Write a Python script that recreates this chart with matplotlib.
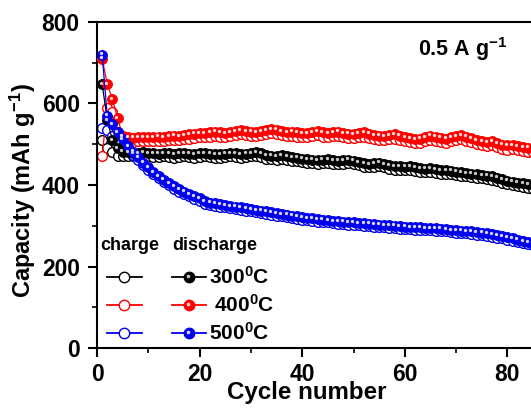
import matplotlib
matplotlib.use("Agg")
import matplotlib.pyplot as plt
from matplotlib.lines import Line2D
from matplotlib.transforms import offset_copy

plt.rcParams['font.family'] = ['Liberation Sans', 'DejaVu Sans']
plt.rcParams['font.weight'] = 'bold'
plt.rcParams['mathtext.fontset'] = 'custom'
plt.rcParams['mathtext.rm'] = 'Liberation Sans:bold'
plt.rcParams['mathtext.it'] = 'Liberation Sans:bold'
plt.rcParams['mathtext.bf'] = 'Liberation Sans:bold'

# ---- data: specific capacity (mAh/g) vs cycle number at 0.5 A/g ----
cycles = list(range(1, 86))

discharge_300 = [648, 560, 510, 490, 482, 480, 479, 478, 480, 479,
                 478, 477, 479, 478, 476, 478, 479, 477, 476, 478,
                 479, 477, 476, 475, 477, 479, 478, 476, 477, 479,
                 480, 478, 474, 472, 471, 473, 471, 469, 467, 465,
                 463, 462, 461, 462, 463, 461, 460, 461, 462, 460,
                 457, 454, 452, 453, 455, 452, 449, 447, 446, 445,
                 446, 444, 442, 440, 441, 439, 437, 436, 435, 433,
                 431, 430, 428, 426, 425, 423, 421, 418, 414, 411,
                 408, 406, 404, 402, 400]
charge_300 = [510, 492, 480, 472, 470, 471, 470, 469, 471, 470,
              469, 468, 470, 469, 467, 469, 470, 468, 467, 469,
              470, 468, 467, 466, 468, 470, 469, 467, 468, 470,
              471, 469, 465, 463, 462, 464, 462, 460, 458, 456,
              454, 453, 452, 453, 454, 452, 451, 452, 453, 451,
              448, 445, 443, 444, 446, 443, 440, 438, 437, 436,
              437, 435, 433, 431, 432, 430, 428, 427, 426, 424,
              422, 421, 419, 417, 416, 414, 412, 409, 405, 402,
              399, 397, 395, 393, 391]

discharge_400 = [710, 648, 610, 565, 520, 517, 516, 517, 518, 517,
                 518, 519, 518, 520, 521, 520, 522, 524, 526, 528,
                 527, 529, 531, 529, 527, 530, 533, 535, 533, 531,
                 530, 532, 535, 538, 536, 533, 530, 531, 529, 527,
                 528, 530, 532, 529, 527, 530, 531, 528, 526, 525,
                 527, 529, 526, 523, 521, 520, 522, 524, 521, 518,
                 515, 513, 514, 518, 521, 519, 516, 514, 517, 520,
                 522, 519, 515, 510, 507, 505, 508, 503, 499, 497,
                 498, 495, 493, 492, 490]
charge_400 = [472, 590, 578, 530, 512, 507, 506, 507, 508, 507,
              508, 509, 508, 510, 511, 510, 512, 514, 516, 518,
              517, 519, 521, 519, 517, 520, 523, 525, 523, 521,
              520, 522, 525, 528, 526, 523, 520, 521, 519, 517,
              518, 520, 522, 519, 517, 520, 521, 518, 516, 515,
              517, 519, 516, 513, 511, 510, 512, 514, 511, 508,
              505, 503, 504, 508, 511, 509, 506, 504, 507, 510,
              512, 509, 505, 500, 497, 495, 498, 493, 489, 487,
              488, 485, 483, 482, 480]

discharge_500 = [720, 570, 550, 530, 512, 496, 482, 468, 455, 443,
                 432, 422, 413, 405, 397, 390, 384, 378, 372, 367,
                 360, 357, 355, 353, 351, 349, 347, 345, 343, 341,
                 339, 337, 335, 333, 331, 329, 327, 325, 323, 321,
                 319, 318, 316, 315, 314, 312, 311, 310, 309, 308,
                 307, 306, 305, 304, 303, 302, 301, 300, 299, 298,
                 297, 296, 296, 295, 295, 294, 293, 292, 290, 289,
                 288, 287, 286, 284, 283, 281, 279, 277, 275, 272,
                 269, 266, 263, 260, 258]
charge_500 = [541, 534, 521, 502, 492, 484, 474, 461, 449, 437,
              426, 416, 407, 399, 391, 384, 378, 372, 366, 361,
              354, 351, 349, 347, 345, 343, 341, 339, 337, 335,
              333, 331, 329, 327, 325, 323, 321, 319, 317, 315,
              313, 312, 310, 309, 308, 306, 305, 304, 303, 302,
              301, 300, 299, 298, 297, 296, 295, 294, 293, 292,
              291, 290, 290, 289, 289, 288, 287, 286, 284, 283,
              282, 281, 280, 278, 277, 275, 273, 271, 269, 266,
              263, 260, 257, 254, 252]

temps = ['300', '400', '500']
colors = ['black', 'red', '#0000ee']
highlights = ['#c8c8c8', '#ffd6d6', '#d6d6ff']

W, H, DPI = 531, 411, 100
fig = plt.figure(figsize=(W / DPI, H / DPI), dpi=DPI)
ax = fig.add_axes([97 / W, 63 / H, 513 / W, 326 / H])

ms = 7.0
series = [(charge_300, discharge_300), (charge_400, discharge_400),
          (charge_500, discharge_500)]
hl_tr = offset_copy(ax.transData, fig=fig, x=-0.9, y=0.9, units='points')

for (ch, dis), c in zip(series, colors):
    ax.plot(cycles, ch, '-', color=c, lw=0.9, marker='o', ms=ms,
            mfc='white', mec=c, mew=1.0, zorder=2)
for (ch, dis), c, hc in zip(series, colors, highlights):
    ax.plot(cycles, dis, '-', color=c, lw=0.9, marker='o', ms=ms,
            mfc=c, mec=c, mew=0.8, zorder=3)
    ax.plot(cycles, dis, linestyle='none', marker='o', ms=2.4,
            mfc=hc, mec='none', transform=hl_tr, zorder=3.5)

ax.set_xlim(0, 100)
ax.set_ylim(0, 800)
ax.set_xticks([0, 20, 40, 60, 80, 100])
ax.set_xticks([10, 30, 50, 70, 90], minor=True)
ax.set_yticks([0, 200, 400, 600, 800])
ax.set_yticks([100, 300, 500, 700], minor=True)
ax.tick_params(which='major', direction='out', length=6.5, width=1.5,
               labelsize=16.4, pad=6, top=False, right=False)
ax.tick_params(axis='x', which='major', pad=4)
ax.tick_params(which='minor', direction='out', length=3.5, width=1.2,
               top=False, right=False)
for lab in ax.get_xticklabels() + ax.get_yticklabels():
    lab.set_fontweight('bold')
for s in ax.spines.values():
    s.set_linewidth(1.5)

# axis titles placed in figure pixels
fig.text(307, H - 392, 'Cycle number', transform=None, fontsize=17.4,
         fontweight='bold', ha='center', va='center')
fig.text(23, H - 191, 'Capacity (mAh g$^{-1}$)', transform=None,
         fontsize=17, fontweight='bold', ha='center', va='center',
         rotation=90)

fig.text(463, H - 49, '0.5 A g$^{-1}$', transform=None, fontsize=15.5,
         fontweight='bold', ha='center', va='center')

# hand-built two-column legend (charge / discharge)
def px(x, y):
    return ((x - 97) / 513, (348 - y) / 326)

tx, ty = px(100, 245)
ax.text(tx, ty, 'charge', transform=ax.transAxes, fontsize=13,
        fontweight='bold', va='center', ha='left')
tx, ty = px(172, 245)
ax.text(tx, ty, 'discharge', transform=ax.transAxes, fontsize=13,
        fontweight='bold', va='center', ha='left')
rows_y = [277, 305, 333]
label_x = [209, 214, 209]
for yy, lx, t, c, hc in zip(rows_y, label_x, temps, colors, highlights):
    x0, y0 = px(107, yy)
    x1, _ = px(142, yy)
    xm, _ = px(124, yy)
    ax.add_line(Line2D([x0, x1], [y0, y0], transform=ax.transAxes,
                       color=c, lw=1.3))
    ax.add_line(Line2D([xm], [y0], transform=ax.transAxes, marker='o',
                       ms=7.5, mfc='white', mec=c, mew=1.0))
    x0, _ = px(172, yy)
    x1, _ = px(206, yy)
    xm, _ = px(189, yy)
    ax.add_line(Line2D([x0, x1], [y0, y0], transform=ax.transAxes,
                       color=c, lw=1.3))
    ax.add_line(Line2D([xm], [y0], transform=ax.transAxes, marker='o',
                       ms=7.5, mfc=c, mec=c, mew=1.0))
    ax.add_line(Line2D([xm], [y0], transform=offset_copy(
        ax.transAxes, fig=fig, x=-1.0, y=1.0, units='points'),
        marker='o', ms=2.6, mfc=hc, mec='none'))
    lxa, _ = px(lx, yy)
    ax.text(lxa, y0, t + '$^{0}$C', transform=ax.transAxes, fontsize=15,
            fontweight='bold', va='center', ha='left')

fig.savefig('out.png', dpi=DPI)
